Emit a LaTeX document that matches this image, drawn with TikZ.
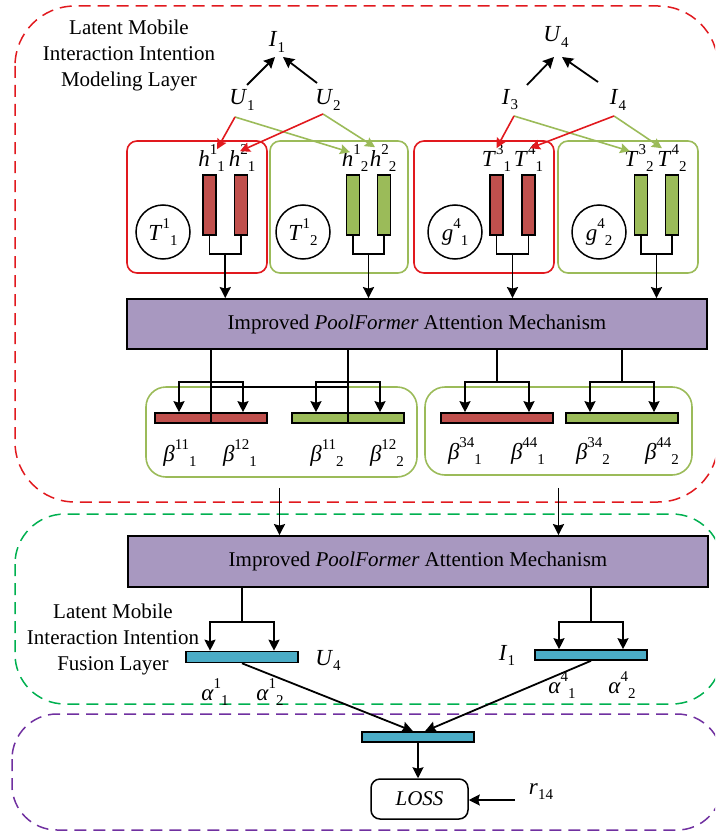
\documentclass[tikz,border=0pt]{standalone}
\usepackage{fontspec}
\setmainfont{Liberation Serif}
\usetikzlibrary{arrows.meta,calc}
\definecolor{dred}{RGB}{225,25,30}
\definecolor{bred}{RGB}{192,80,77}
\definecolor{bgreen}{RGB}{155,187,89}
\definecolor{purp}{RGB}{168,152,192}
\definecolor{cyanb}{RGB}{75,172,198}
\definecolor{dgreen}{RGB}{0,176,80}
\definecolor{dpurp}{RGB}{112,48,160}
\newcommand{\up}[1]{\raisebox{0.5em}{\fontsize{15}{15}\selectfont #1}}
\newcommand{\dn}[1]{\raisebox{-0.22em}{\fontsize{15}{15}\selectfont #1}}
\begin{document}
\begin{tikzpicture}[x=1pt,y=-1pt,line width=1.8pt,font=\fontsize{21}{26}\selectfont,
  lbl/.style={inner sep=0pt},
  mlbl/.style={inner sep=0pt,font=\fontsize{23}{26}\selectfont},
  arr/.style={-{Stealth[length=11pt,width=11pt,inset=1.5pt]}},
  rarr/.style={draw=dred,line width=1.6pt,-{Stealth[length=10pt,width=10pt,inset=1.5pt]}},
  garr/.style={draw=bgreen,line width=1.6pt,-{Stealth[length=10pt,width=10pt,inset=1.5pt]}},
  vbar/.style={draw=black,line width=1.6pt,minimum width=13pt,minimum height=60pt,inner sep=0pt},
  hbar/.style={draw=black,line width=1.6pt,minimum width=112pt,minimum height=10pt,inner sep=0pt},
  pbox/.style={draw=black,fill=purp,minimum width=580pt,minimum height=50pt,line width=1.8pt,inner sep=0pt},
  grp/.style={rounded corners=10pt,line width=1.6pt,inner sep=0pt},
  circ/.style={circle,draw=black,line width=1.5pt,minimum size=54pt,inner sep=0pt,font=\fontsize{23}{26}\selectfont},
  layer/.style={dash pattern=on 12pt off 7pt,line width=1.5pt}
]
\useasboundingbox (0,0) rectangle (715,832);
\clip (0,0) rectangle (715,832);
% layers
\draw[layer,draw=dred,rounded corners=60pt] (15,6) rectangle (718,502);
\draw[layer,draw=dgreen,rounded corners=50pt] (15,514) rectangle (722,704);
\draw[layer,draw=dpurp,rounded corners=45pt] (12,714) rectangle (722,830);
\node[lbl,align=center] (title1) at (129,55) {Latent Mobile\\Interaction Intention\\Modeling Layer};
\node[lbl,align=center] (title2) at (113,639) {Latent Mobile\\Interaction Intention\\Fusion Layer};

% group boxes
\node[grp,draw=dred,minimum width=140pt,minimum height=132pt] (gR1) at (197,207) {};
\node[grp,draw=bgreen,minimum width=138pt,minimum height=132pt] (gG1) at (339,207) {};
\node[grp,draw=dred,minimum width=140pt,minimum height=132pt] (gR2) at (484,207) {};
\node[grp,draw=bgreen,minimum width=140pt,minimum height=132pt] (gG2) at (628,207) {};

% circles
\node[circ] (c1) at (163,232) {\textit{T}\up{1}\dn{1}};
\node[circ] (c2) at (303,232) {\textit{T}\up{1}\dn{2}};
\node[circ] (c3) at (455,232) {\textit{g}\up{4}\dn{1}};
\node[circ] (c4) at (599,232) {\textit{g}\up{4}\dn{2}};

% vertical bars
\node[vbar,fill=bred] (h11) at (209.5,205) {};
\node[vbar,fill=bred] (h21) at (241,205) {};
\node[vbar,fill=bgreen] (h12) at (353,205) {};
\node[vbar,fill=bgreen] (h22) at (384,205) {};
\node[vbar,fill=bred] (t31) at (496.5,205) {};
\node[vbar,fill=bred] (t41) at (528.5,205) {};
\node[vbar,fill=bgreen] (t32) at (641,205) {};
\node[vbar,fill=bgreen] (t42) at (672,205) {};
\node[mlbl,anchor=south] (lh11) at ($(h11.north)+(2,-2)$) {\textit{h}\up{1}\dn{1}};
\node[mlbl,anchor=south] (lh21) at ($(h21.north)+(1,-2)$) {\textit{h}\up{2}\dn{1}};
\node[mlbl,anchor=south] (lh12) at ($(h12.north)+(2,-2)$) {\textit{h}\up{1}\dn{2}};
\node[mlbl,anchor=south] (lh22) at ($(h22.north)+(-1,-2)$) {\textit{h}\up{2}\dn{2}};
\node[mlbl,anchor=south] (lt31) at ($(t31.north)+(0,-2)$) {\textit{T}\up{3}\dn{1}};
\node[mlbl,anchor=south] (lt41) at ($(t41.north)+(0,-2)$) {\textit{T}\up{4}\dn{1}};
\node[mlbl,anchor=south] (lt32) at ($(t32.north)+(-2,-2)$) {\textit{T}\up{3}\dn{2}};
\node[mlbl,anchor=south] (lt42) at ($(t42.north)+(0,-2)$) {\textit{T}\up{4}\dn{2}};

% top labels
\node[mlbl] (I1) at (277,42) {\textit{I}\dn{1}};
\node[mlbl] (U1) at (242,100) {\textit{U}\dn{1}};
\node[mlbl] (U2) at (328,100) {\textit{U}\dn{2}};
\node[mlbl] (U4) at (556,37) {\textit{U}\dn{4}};
\node[mlbl] (I3) at (510,100) {\textit{I}\dn{3}};
\node[mlbl] (I4) at (618,100) {\textit{I}\dn{4}};
\draw[arr] ($(U1)+(5,-15)$) -- ($(I1)+(-2,15)$);
\draw[arr] ($(U2)+(-11,-17)$) -- ($(I1)+(6,15)$);
\draw[arr] ($(I3)+(17,-15)$) -- ($(U4)+(-2,20)$);
\draw[arr] ($(I4)+(-20,-18)$) -- ($(U4)+(6,20)$);
% red / green arrows
\draw[garr] ($(U1)+(-7,17)$) -- ($(h12.north)+(-3,-22)$);
\draw[garr] ($(U2)+(-5,14)$) -- ($(h22.north)+(-9,-27)$);
\draw[rarr] ($(U1)+(-7,17)$) -- ($(h11.north)+(7.5,-25)$);
\draw[rarr] ($(U2)+(-5,14)$) -- ($(h21.north)+(-1,-23)$);
\draw[garr] ($(I3)+(4,16)$) -- ($(t32.north)+(-11,-23)$);
\draw[garr] ($(I4)+(-4,16)$) -- ($(t42.north)+(-10,-26)$);
\draw[rarr] ($(I3)+(4,16)$) -- ($(t31.north)+(0,-26)$);
\draw[rarr] ($(I4)+(-4,16)$) -- ($(t41.north)+(1.5,-26)$);

% purple box 1
\node[pbox] (pm1) at (417,324) {Improved \textit{PoolFormer} Attention Mechanism};
% joins of vertical bars
\foreach \a/\b/\j in {h11/h21/j1,h12/h22/j2,t31/t41/j3,t32/t42/j4}{
  \draw (\a.south) -- ++(0,18) -| (\b.south);
  \coordinate (\j) at ($(\a.south)!0.5!(\b.south)+(0,18)$);
  \draw[arr] (\j) -- (\j |- pm1.north);
}

% beta bars
\node[grp,draw=bgreen,rounded corners=20pt,minimum width=271pt,minimum height=90pt] (gA) at (281.5,432) {};
\node[grp,draw=bgreen,rounded corners=20pt,minimum width=267pt,minimum height=88pt] (gB) at (558.5,431) {};
\node[hbar,fill=bred] (bR1) at (211,418) {};
\node[hbar,fill=bgreen] (bG1) at (348,418) {};
\node[hbar,fill=bred] (bR2) at (497,418) {};
\node[hbar,fill=bgreen] (bG2) at (622,418) {};
\foreach \b/\k in {bR1/k1,bG1/k2,bR2/k3,bG2/k4}{
  \draw (\b |- pm1.south) -- ++(0,32) coordinate (\k);
  \draw[arr] (\k) -| ($(\b.north)+(-32,0)$);
  \draw[arr] (\k) -| ($(\b.north)+(32,0)$);
}
\draw (k1) -- (bR1.south);
\draw (k2) -- (bG1.south);
\draw ($(k1)+(0,5)$) -- ($(k2)+(0,5)$);
\node[mlbl] (b111) at (180,453) {\textit{β}\up{11}\dn{1}};
\node[mlbl] (b121) at (240,453) {\textit{β}\up{12}\dn{1}};
\node[mlbl] (b112) at (327,453) {\textit{β}\up{11}\dn{2}};
\node[mlbl] (b122) at (387,453) {\textit{β}\up{12}\dn{2}};
\node[mlbl] (b341) at (465,451) {\textit{β}\up{34}\dn{1}};
\node[mlbl] (b441) at (528,451) {\textit{β}\up{44}\dn{1}};
\node[mlbl] (b342) at (593,451) {\textit{β}\up{34}\dn{2}};
\node[mlbl] (b442) at (662,451) {\textit{β}\up{44}\dn{2}};

% purple box 2
\node[pbox,minimum height=51pt] (pm2) at (418,561.5) {Improved \textit{PoolFormer} Attention Mechanism};
\coordinate (eA) at ($(gA.south)+(-2,10)$);
\coordinate (eB) at ($(gB.south)+(0,12)$);
\draw[arr] (eA) -- (eA |- pm2.north);
\draw[arr] (eB) -- (eB |- pm2.north);

% fusion bars
\node[hbar,fill=cyanb,minimum height=11pt] (cU) at (242,657) {};
\node[hbar,fill=cyanb] (cI) at (591,655) {};
\foreach \b/\m in {cU/m1,cI/m2}{
  \draw (\b |- pm2.south) -- ++(0,34) coordinate (\m);
  \draw[arr] (\m) -| ($(\b.north)+(-32,0)$);
  \draw[arr] (\m) -| ($(\b.north)+(32,0)$);
}
\node[mlbl] (lU4) at (328,660) {\textit{U}\dn{4}};
\node[mlbl] (lI1) at (507,655) {\textit{I}\dn{1}};
\node[mlbl] (a11) at (215,692) {\textit{α}\up{1}\dn{1}};
\node[mlbl] (a12) at (270,692) {\textit{α}\up{1}\dn{2}};
\node[mlbl] (a41) at (562,685) {\textit{α}\up{4}\dn{1}};
\node[mlbl] (a42) at (622,685) {\textit{α}\up{4}\dn{2}};

% loss layer
\node[hbar,fill=cyanb] (cL) at (418,737) {};
\draw[arr] (cU.south) -- ($(cL.north)+(-5,0)$);
\draw[arr] (cI.south) -- ($(cL.north)+(7,0)$);
\node[draw=black,rounded corners=9pt,line width=1.5pt,minimum width=97pt,minimum height=40pt,inner sep=0pt] (loss) at (419.5,799) {\textit{LOSS}};
\draw[arr] (cL.south) -- (cL.south |- loss.north);
\node[mlbl] (r14) at (541,792) {\textit{r}\dn{14}};
\coordinate (rin) at ($(r14.west)+(-13,8)$);
\draw[arr] (rin) -- (rin -| loss.east);
\end{tikzpicture}
\end{document}
